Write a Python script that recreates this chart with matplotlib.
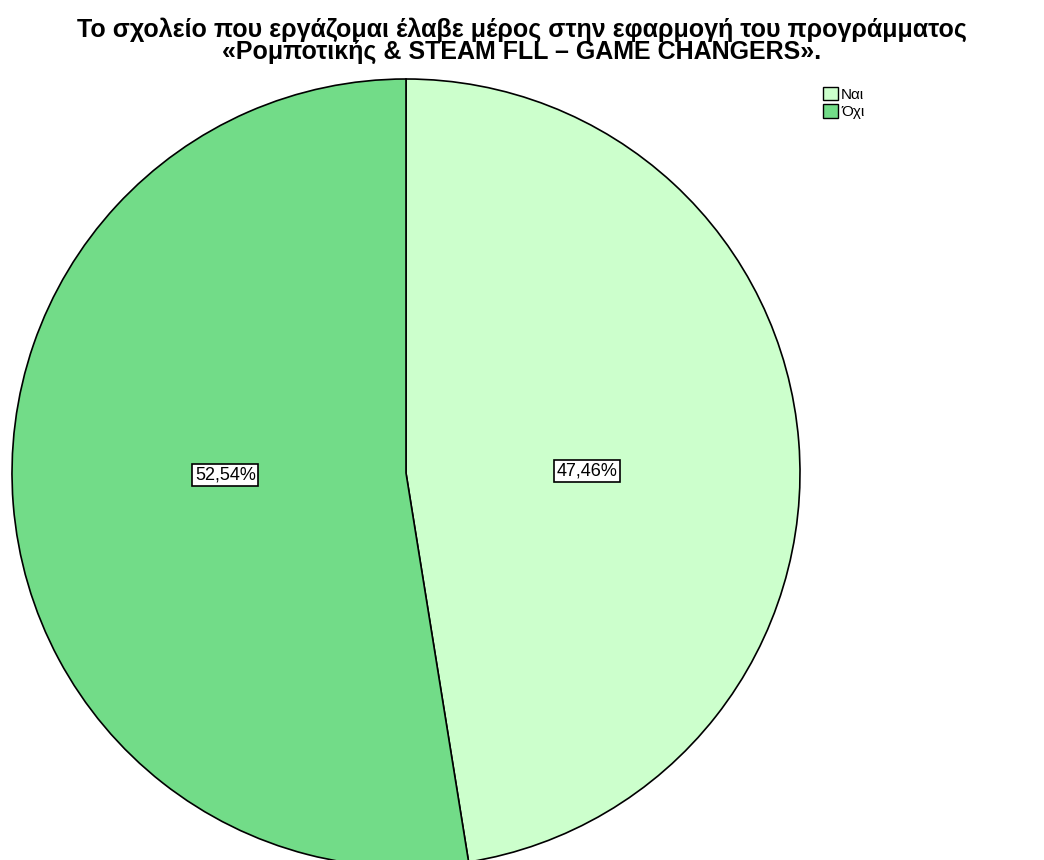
import matplotlib.pyplot as plt
from matplotlib.patches import Patch

# answers and their shares (%)
labels = ["Ναι", "Όχι"]
shares = [47.46, 52.54]
colors = ["#ccffcc", "#72dc88"]

title = ("Το σχολείο που εργάζομαι έλαβε μέρος στην εφαρμογή του προγράμματος\n"
         "«Ρομποτικής & STEAM FLL – GAME CHANGERS».")

plt.rcParams["font.family"] = ["Liberation Sans", "DejaVu Sans"]

W, H = 1044, 860
fig = plt.figure(figsize=(W / 100, H / 100), dpi=100)

# pie area in pixel terms: centre (406, 473), radius 394
cx, cy, r = 406, 473, 394
ax = fig.add_axes([(cx - r) / W, 1 - (cy + r) / H, 2 * r / W, 2 * r / H])

wedges, _, autotexts = ax.pie(
    shares, colors=colors, startangle=90, counterclock=False, radius=1,
    wedgeprops=dict(edgecolor="black", linewidth=1.2),
    autopct=lambda p: f"{p:.2f}%".replace(".", ","), pctdistance=0.46,
)
ax.set_xlim(-1, 1)
ax.set_ylim(-1, 1)
ax.set_aspect("equal")
ax.axis("off")

for t in autotexts:
    # keep the value boxes close to the horizontal through the centre
    x, y = t.get_position()
    t.set_position((x, y * 0.15))
    t.set_fontsize(13)
    t.set_bbox(dict(boxstyle="square,pad=0.15", facecolor="white",
                    edgecolor="black", linewidth=1.2))

fig.text(0.5, 1 - 17 / H, title, ha="center", va="top", fontsize=18,
         fontweight="bold", linespacing=0.9)

handles = [Patch(facecolor=c, edgecolor="black", linewidth=1) for c in colors]
fig.legend(handles, labels, loc="upper left", bbox_to_anchor=(812 / W, 1 - 76 / H),
           frameon=False, fontsize=11, handlelength=1.0, handleheight=1.0,
           handletextpad=0.2, labelspacing=0.15, borderpad=0.2)

fig.savefig("out.png", dpi=100)
